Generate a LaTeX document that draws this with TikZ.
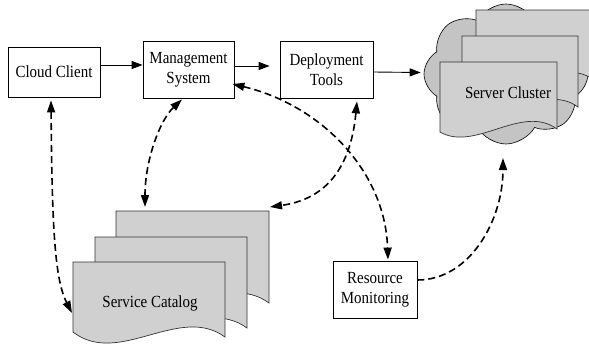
\documentclass[tikz,border=0pt]{standalone}
\usepackage{fontspec}
\setmainfont{Liberation Serif}[FakeStretch=0.88]
\usetikzlibrary{arrows.meta,shapes.symbols,calc}
\definecolor{docgray}{RGB}{208,208,208}
\definecolor{cloudgray}{RGB}{196,196,196}
\newcommand{\wavedoc}[5]{% x0 x1 top hR hL
  \filldraw[doc] (#1,#3) -- (#2,#3) -- (#2,#3+#4)
    .. controls ({#2-0.3*(#2-#1)},{#3+#4-0.22*(#2-#1)}) and ({#1+0.3*(#2-#1)},{#3+#4+0.2*(#2-#1)}) .. (#1,#3+#5) -- cycle;}
\begin{document}
\begin{tikzpicture}[x=1pt,y=-1pt,
  box/.style={draw,line width=0.8pt,fill=white,align=center,inner sep=0pt,font=\fontsize{17}{20}\selectfont},
  lbl/.style={align=center,inner sep=0pt,font=\fontsize{17}{20}\selectfont},
  doc/.style={draw=black!80,line width=0.7pt,fill=docgray},
  solidarr/.style={line width=0.9pt,-{Triangle[length=11pt,width=8pt]}},
  dasharr/.style={line width=1.6pt,dash pattern=on 7pt off 4pt,{Triangle[length=12pt,width=8pt]}-{Triangle[length=12pt,width=8pt]}},
  onearr/.style={line width=1.6pt,dash pattern=on 7pt off 4pt,-{Triangle[length=12pt,width=8pt]}},
  ]
\useasboundingbox (0,0) rectangle (589,351);
% server cluster
\node[cloud, cloud puffs=8, cloud puff arc=120, aspect=1.15, draw, line width=0.6pt, fill=cloudgray,
      minimum width=164pt, minimum height=140pt, inner sep=0pt] (cloud) at (506,74) {};
\wavedoc{476}{594}{10}{70}{72}
\wavedoc{462}{578}{36}{71}{73}
\wavedoc{440}{557}{62}{67}{70}
\node[lbl] (srvtext) at (508,93) {Server Cluster};
% service catalog
\wavedoc{116}{269}{211}{92}{88}
\wavedoc{95}{247}{237}{91}{87}
\wavedoc{73}{225}{262}{75}{70}
\node[lbl] (sctext) at (150,303) {Service Catalog};
\coordinate (scfront) at (72,313);
\coordinate (scbacktop) at (145,207);
\coordinate (scbackright) at (270,207);
\coordinate (srvbottom) at (503,158);
% boxes
\node[box,minimum width=92pt,minimum height=50pt] (cc) at (54,72) {Cloud Client};
\node[box,minimum width=91pt,minimum height=57pt] (mgmt) at (188.5,69.5) {Management\\System};
\node[box,minimum width=93pt,minimum height=57pt] (dep) at (326.5,69.5) {Deployment\\Tools};
\node[box,minimum width=84pt,minimum height=57pt] (rm) at (375,289.5) {Resource\\Monitoring};
% solid arrows
\draw[solidarr] ($(cc.east)+(0,-7)$) -- ($(mgmt.west)+(0,-4.5)$);
\draw[solidarr] ($(mgmt.east)+(0,-3.5)$) -- ($(dep.west)+(-10,-3.5)$);
\draw[solidarr] ($(dep.east)+(0,2.5)$) -- ($(cloud.west)+(-3,-1.5)$);
% dashed arrows
\draw[dasharr] ($(cc.south)+(-3,3)$) .. controls (52,230) and (55,280) .. (scfront);
\draw[dasharr] ($(mgmt.south)+(-6.5,1)$) .. controls (160,120) and (145,160) .. (scbacktop);
\draw[dasharr] ($(dep.south)+(30.5,3)$) .. controls (350,175) and (320,200) .. (scbackright);
\draw[dasharr] ($(mgmt.east)+(-2,14.5)$) .. controls (320,105) and (385,170) .. ($(rm.north)+(13,-1)$);
\draw[onearr] ($(rm.east)+(0,-9.5)$) .. controls (470,280) and (503,220) .. (srvbottom);
\end{tikzpicture}
\end{document}
